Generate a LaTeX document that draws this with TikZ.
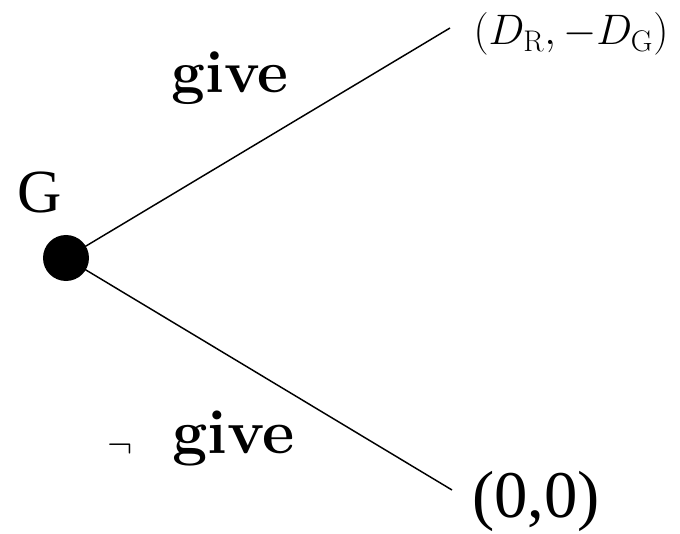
\documentclass[tikz,border=0pt]{standalone}
\usepackage{fix-cm}
\usepackage{fontspec}
\newfontfamily\timesfont{Liberation Serif}
\usepackage{amsmath}
\usetikzlibrary{positioning}

\begin{document}
\begin{tikzpicture}[
  x=0.75pt,y=-0.75pt,
  br/.style={line width=1.1pt,black},
  lbl/.style={font=\fontsize{45}{50}\selectfont\bfseries,anchor=base,inner sep=0pt},
  pay/.style={anchor=base,inner sep=0pt},
]
\useasboundingbox (0,0) rectangle (680,534);

% decision node of player G
\node[circle,fill=black,minimum size=34.5pt,inner sep=0pt] (g) at (66,258) {};
\node[font=\timesfont\fontsize{46}{50}\selectfont,inner sep=0pt] (gname) at (40,192) {G};

% terminal points
\coordinate (up) at (450,28);
\coordinate (down) at (452,490);
\node[pay,font=\fontsize{32}{36}\selectfont] (payup) at (571,45) {$(D_{\mathrm{R}},-D_{\mathrm{G}})$};
\node[pay,font=\timesfont\fontsize{50}{54}\selectfont] (paydown) at (536,517) {(0,0)};

\draw[br] (g.center) -- (up);
\draw[br] (g.center) -- (down);

% action labels
\node[lbl] (give) at (230,93) {give};
\node[lbl,font=\fontsize{47}{50}\selectfont\bfseries] (nogive) at (201,453)
  {\raisebox{-3pt}{\resizebox{19pt}{!}{$\neg$}}\hspace{30pt}give};
\end{tikzpicture}
\end{document}
